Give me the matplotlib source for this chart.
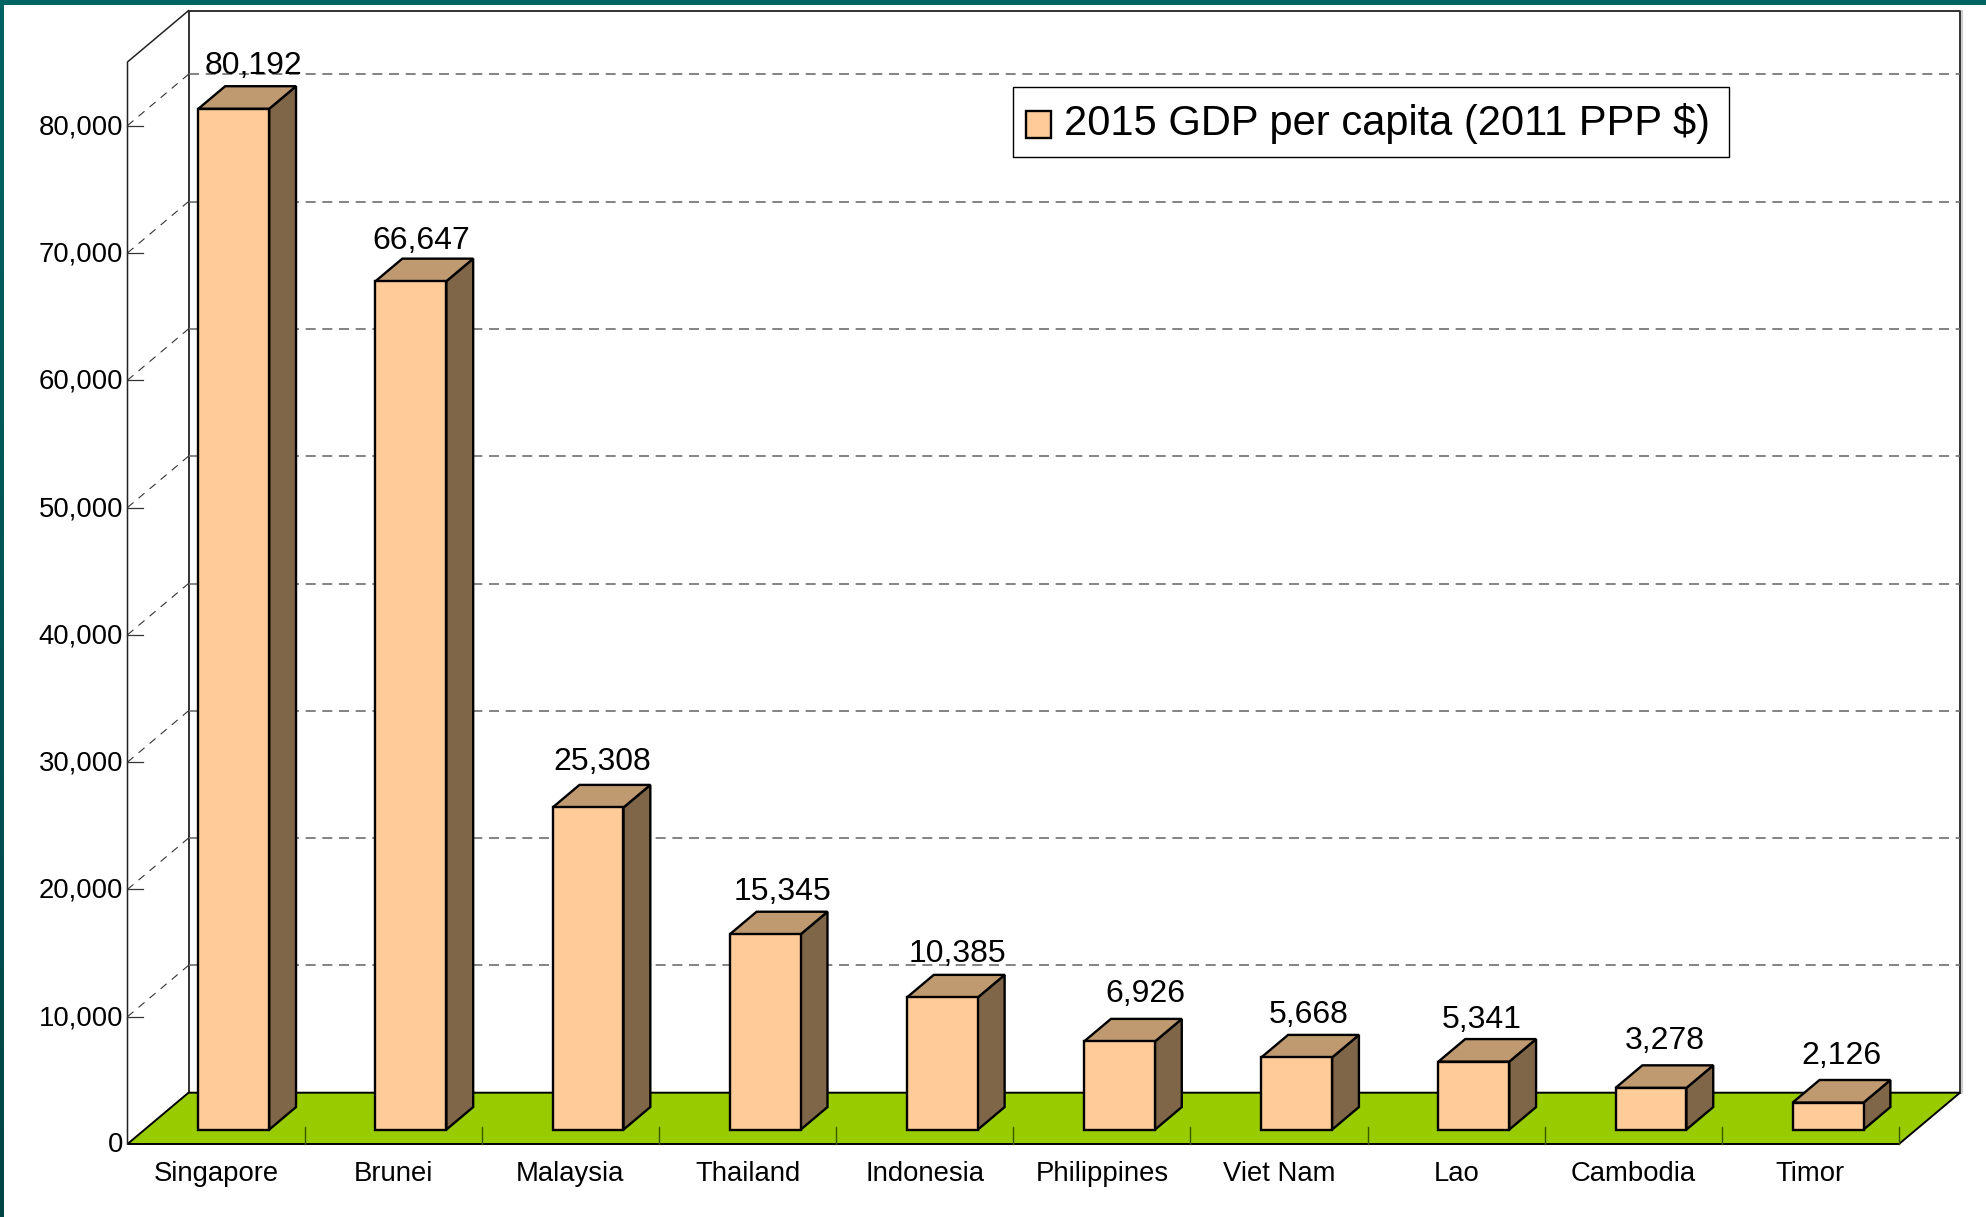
import matplotlib
matplotlib.use('Agg')
import matplotlib.pyplot as plt
import numpy as np
from matplotlib.patches import Polygon, Rectangle

countries = ['Singapore', 'Brunei', 'Malaysia', 'Thailand', 'Indonesia',
             'Philippines', 'Viet Nam', 'Lao', 'Cambodia', 'Timor']
gdp = [80192, 66647, 25308, 15345, 10385, 6926, 5668, 5341, 3278, 2126]
y_ticks = [0, 10000, 20000, 30000, 40000, 50000, 60000, 70000, 80000]
y_max = 85000
legend_label = '2015 GDP per capita (2011 PPP $)'

# value labels are hand placed in the original, nudge in pixels
label_dx = [6, -3, 1, 4, 2, 12, -1, -5, 0, 0]
label_dy = [5, 7, 2, 5, 4, 0, 5, 6, 1, 1]

W, H = 1986, 1217
# pixels per category / per unit, position of the front origin
px_cat = 177.15
px_val = 127.3 / 10000
x0_px, y0_px = 127.5, 1144

# depth of the chart in data units
DX = 61 / px_cat
DY = 51.3 / px_val
bar_w = 0.40
bar_near, bar_far = 0.28, 0.72
bar_left = 0.5 - bar_w / 2 + bar_near * DX - 0.093

FRONT = '#FFCC99'
TOP = '#BF9970'
SIDE = '#806648'
FLOOR = '#99CC00'

plt.rcParams['font.family'] = ['Liberation Sans', 'DejaVu Sans']

fig = plt.figure(figsize=(W / 100, H / 100), dpi=100, facecolor='white')
ax = fig.add_axes([0, 0, 1, 1])
ax.set_xlim(-x0_px / px_cat, (W - x0_px) / px_cat)
ax.set_ylim(-(H - y0_px) / px_val, y0_px / px_val)
ax.axis('off')


def pt(x, v, d=0.0):
    return (x + d * DX, v + d * DY)


n = len(countries)

# floor
ax.add_patch(Polygon([pt(0, 0), pt(n, 0), pt(n, 0, 1), pt(0, 0, 1)], closed=True,
                     fc=FLOOR, ec='black', lw=1.4, zorder=2))

# back wall and the side walls, light shadow on the right
ax.plot(*zip(pt(n + 2 / px_cat, y_max, 1), pt(n + 2 / px_cat, 0, 1)), color='#c4c4c4', lw=1.2, zorder=0)
ax.plot(*zip(pt(0, 0, 1), pt(0, y_max, 1), pt(n, y_max, 1), pt(n, 0, 1)),
        color='#222222', lw=1.3, zorder=1)
ax.plot(*zip(pt(0, 0), pt(0, y_max), pt(0, y_max, 1)), color='#222222', lw=1.1, zorder=3)

# gridlines, side wall then back wall
for v in y_ticks[1:]:
    ax.plot(*zip(pt(0, v), pt(0, v, 1)), color='#333333', lw=0.8, dashes=(7, 6), zorder=1)
    ax.plot(*zip(pt(0, v, 1), pt(n, v, 1)), color='#6e6e6e', lw=1.2, dashes=(6, 4), zorder=1)

# y ticks and labels
for v in y_ticks:
    if v > 0:
        ax.plot([0, 15.5 / px_cat], [v, v], color='#333333', lw=0.9, zorder=3)
    ax.text(-4.5 / px_cat, v - 1.5 / px_val, f'{v:,}', ha='right', va='center', fontsize=19.8, color='black')

# category ticks and labels
for i in range(n):
    ax.plot([i + 1, i + 1], [0, 17.5 / px_val], color='#3a5a00', lw=1.0, zorder=3)
    ax.text(i + 0.5, -30 / px_val, countries[i], ha='center', va='center', fontsize=19.8, color='black')

# bars
for i, v in enumerate(gdp):
    x1 = i + bar_left
    x2 = x1 + bar_w
    ax.add_patch(Polygon([pt(x1, 0, bar_near), pt(x2, 0, bar_near), pt(x2, v, bar_near), pt(x1, v, bar_near)],
                         closed=True, fc=FRONT, ec='black', lw=1.7, joinstyle='miter', zorder=5))
    ax.add_patch(Polygon([pt(x2, 0, bar_near), pt(x2, 0, bar_far), pt(x2, v, bar_far), pt(x2, v, bar_near)],
                         closed=True, fc=SIDE, ec='black', lw=1.7, joinstyle='miter', zorder=4))
    ax.add_patch(Polygon([pt(x1, v, bar_near), pt(x2, v, bar_near), pt(x2, v, bar_far), pt(x1, v, bar_far)],
                         closed=True, fc=TOP, ec='black', lw=1.7, joinstyle='miter', zorder=4))
    lx = pt(x1 + bar_w / 2, v, (bar_near + bar_far) / 2)[0] + label_dx[i] / px_cat
    ax.text(lx, v + bar_far * DY + (10 - label_dy[i]) / px_val, f'{v:,}', ha='center', va='bottom',
            fontsize=23, color='black', zorder=6)

# legend box, placed by hand in figure fractions
fig.add_artist(Rectangle((1013 / W, 1 - 158 / H), 716 / W, 1.5 / H, transform=fig.transFigure,
                         fc='#777777', ec='none', zorder=7))
fig.add_artist(Rectangle((1013 / W, 1 - 157 / H), 716 / W, 70 / H, transform=fig.transFigure,
                         fc='white', ec='black', lw=1.0, zorder=8))
fig.add_artist(Rectangle((1026 / W, 1 - 138 / H), 25 / W, 27 / H, transform=fig.transFigure,
                         fc=FRONT, ec='black', lw=1.7, zorder=9))
fig.text(1064 / W, 1 - 123 / H, legend_label, ha='left', va='center', fontsize=30, color='black', zorder=9)

# teal border along the top and left edge, the left one darkens downwards
fig.add_artist(Rectangle((0, 1 - 5 / H), 1, 5 / H, transform=fig.transFigure, fc='#006464', ec='none'))
edge = fig.add_axes([0, 0, 4 / W, 1 - 5 / H])
edge.imshow(np.linspace(0, 1, 64).reshape(-1, 1, 1) * np.array([0, -0.12, -0.12]) + np.array([0, 0.39, 0.39]),
            aspect='auto')
edge.axis('off')

fig.savefig('out.png', dpi=100)
